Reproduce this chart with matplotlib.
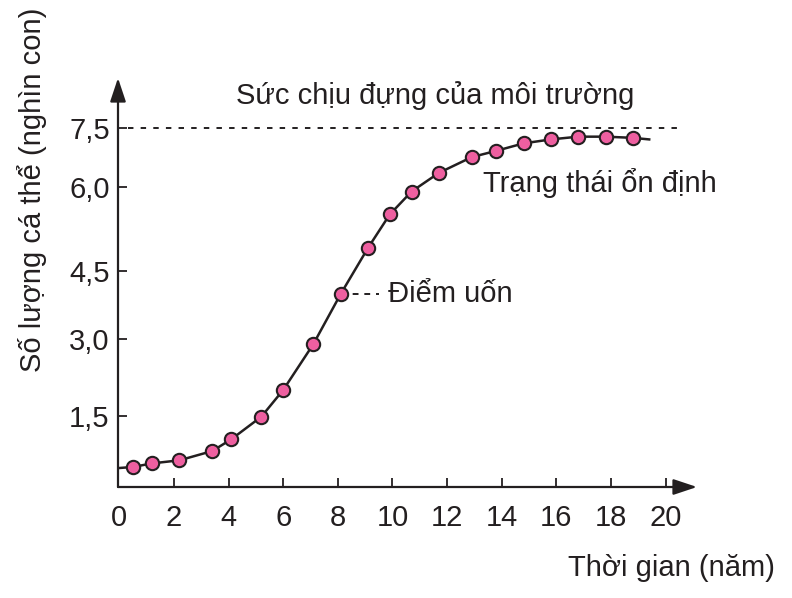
import numpy as np
import matplotlib
matplotlib.use('Agg')
import matplotlib.pyplot as plt

plt.rcParams['font.family'] = ['Liberation Sans', 'DejaVu Sans']

# data
years = [0.5, 1.2, 2.2, 3.4, 4.1, 5.2, 6.0, 7.1, 8.1, 9.1,
         9.9, 10.7, 11.7, 12.9, 13.8, 14.8, 15.8, 16.8, 17.8, 18.8]
population = [0.51, 0.58, 0.64, 0.82, 1.05, 1.49, 2.01, 2.90, 3.99, 4.91,
              5.51, 5.92, 6.36, 6.76, 6.92, 7.11, 7.21, 7.28, 7.28, 7.25]
curve_start = (0.0, 0.49)
curve_end = (19.4, 7.21)
carrying_capacity = 7.5
inflection_idx = 8

x_ticks = [2, 4, 6, 8, 10, 12, 14, 16, 18, 20]
x_tick_labels = ['0', '2', '4', '6', '8', '10', '12', '14', '16', '18', '20']
y_ticks = [1.5, 3.0, 4.5, 6.0, 7.5]
y_tick_labels = ['1,5', '3,0', '4,5', '6,0', '7,5']

# the printed y axis is not evenly spaced, so use a piecewise scale
scale_vals = [-15.0, 0.0, 1.5, 3.0, 4.5, 6.0, 7.5, 20.0]
scale_pos = [-770, 0, 77, 154, 222, 306, 365, 857]


def forward(v):
    return np.interp(v, scale_vals, scale_pos)


def inverse(u):
    return np.interp(u, scale_pos, scale_vals)


ink = '#231f20'
pink = '#ee5fa0'
fs = 21

fig = plt.figure(figsize=(7.92, 5.98), dpi=100)
ax = fig.add_axes([118 / 792, 1 - 487 / 598, 579 / 792, 409 / 598])
ax.set_yscale('function', functions=(forward, inverse))
ax.set_xlim(-0.05, 21.15)
ax.set_ylim(0.12, 8.77)

for s in ax.spines.values():
    s.set_visible(False)

# axes with arrow heads
arrow = dict(arrowstyle='-|>,head_length=1.2,head_width=0.4', color=ink,
             lw=1.6, mutation_scale=12, shrinkA=0, shrinkB=0)
ax.annotate('', xy=(1, 0), xytext=(0, 0), xycoords='axes fraction',
            arrowprops=arrow, annotation_clip=False)
ax.annotate('', xy=(0, 1), xytext=(0, 0), xycoords='axes fraction',
            arrowprops=arrow, annotation_clip=False)

ax.set_xticks([0] + x_ticks)
ax.set_xticklabels(x_tick_labels)
ax.set_yticks(y_ticks)
ax.set_yticklabels(y_tick_labels)
ax.tick_params(axis='both', direction='in', length=6.5, width=1.3,
               color=ink, labelcolor=ink, labelsize=fs)
ax.tick_params(axis='x', pad=12.5)
ax.tick_params(axis='y', pad=6)
ax.xaxis.get_major_ticks()[0].tick1line.set_visible(False)

# carrying capacity
ax.plot([0.3, 20.6], [carrying_capacity, carrying_capacity], color=ink,
        lw=1.4, linestyle=(0, (2.8, 3.7)), clip_on=False)

# growth curve
line_x = [curve_start[0]] + years + [curve_end[0]]
line_y = [curve_start[1]] + population + [curve_end[1]]
ax.plot(line_x, line_y, color=ink, lw=1.8, zorder=3, clip_on=False)
ax.plot(years, population, 'o', ms=9.6, mfc=pink, mec=ink, mew=1.5,
        zorder=4, clip_on=False)

# inflection point
ix, iy = years[inflection_idx], population[inflection_idx]
ax.plot([ix, 9.5], [iy, iy], color=ink, lw=1.4,
        linestyle=(0, (3, 3)), zorder=2)
ax.text(9.85, iy, 'Điểm uốn', fontsize=fs, color=ink,
        ha='left', va='center')

ax.text(11.55, 8.32, 'Sức chịu đựng của môi trường', fontsize=fs,
        color=ink, ha='center', va='center')
ax.text(13.3, 6.1, 'Trạng thái ổn định', fontsize=fs, color=ink,
        ha='left', va='center')

fig.text(775 / 792, 1 - 568 / 598, 'Thời gian (năm)', fontsize=fs,
         color=ink, ha='right', va='center')
fig.text(32 / 792, 1 - 190 / 598, 'Số lượng cá thể (nghìn con)',
         fontsize=fs, color=ink, ha='center', va='center', rotation=90)

fig.savefig('out.png', dpi=100)
